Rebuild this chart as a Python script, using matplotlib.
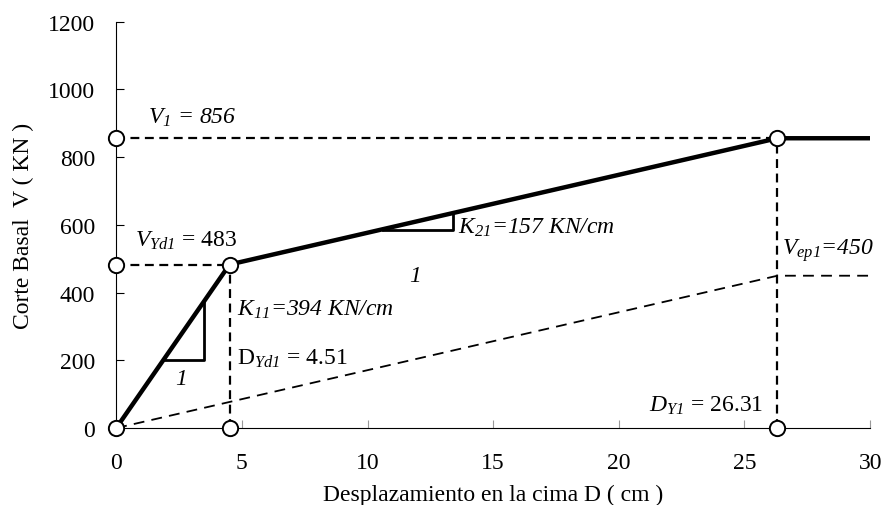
import matplotlib
matplotlib.use('Agg')
import matplotlib.pyplot as plt

plt.rcParams['font.family'] = 'Liberation Serif'
plt.rcParams['mathtext.fontset'] = 'custom'
plt.rcParams['mathtext.rm'] = 'Liberation Serif'
plt.rcParams['mathtext.it'] = 'Liberation Serif:italic'
# italic digits in subscripts (mathtext forces digits upright in \mathit)
plt.rcParams['mathtext.sf'] = 'Liberation Serif:italic'

# bilinear capacity curve
curve_x = [0, 4.51, 26.31, 30]
curve_y = [0, 483, 856, 856]
# elastoplastic demand line
ep_x = [0, 26.31, 30]
ep_y = [0, 450, 450]
# key points
dyd1, vyd1 = 4.51, 483
dy1, v1 = 26.31, 856
pts_x = [0, dyd1, dy1, 0, 0, dyd1, dy1]
pts_y = [0, vyd1, v1, v1, vyd1, 0, 0]
# slope triangles
tri1_x = [1.87, 3.5, 3.5]
tri1_y = [200, 200, 375]
tri2_x = [10.6, 13.4, 13.4]
tri2_y = [585, 585, 635]

fig = plt.figure(figsize=(8.87, 5.06), dpi=100)
ax = fig.add_axes([0.131, 0.152, 0.85, 0.803])

ax.plot([0, dy1], [v1, v1], 'k--', lw=1.6, dashes=(4, 2.5))
ax.plot([0, dyd1], [vyd1, vyd1], 'k--', lw=1.6, dashes=(4, 2.5))
ax.plot([dyd1, dyd1], [0, vyd1], 'k--', lw=1.6, dashes=(4, 2.5))
ax.plot([dy1, dy1], [0, v1], 'k--', lw=1.6, dashes=(4, 2.5))
ax.plot(ep_x, ep_y, 'k--', lw=1.3, dashes=(6, 4))
ax.plot(curve_x, curve_y, 'k-', lw=3.2, solid_capstyle='butt')
ax.plot(tri1_x, tri1_y, 'k-', lw=2)
ax.plot(tri2_x, tri2_y, 'k-', lw=2)
ax.plot(pts_x, pts_y, 'o', ms=11, mfc='white', mec='k', mew=1.4, ls='none',
        clip_on=False, zorder=5)

fs = 17
ax.text(1.27, 918, r'$V_{\mathsf{1}}$ = 856', fontsize=fs, style='italic', va='center')
ax.text(0.75, 556, r'$V_{\mathsf{Yd1}}$ = 483', fontsize=fs, va='center')
ax.text(4.8, 352, r'$K_{\mathsf{11}}$=394 KN/cm', fontsize=fs, style='italic', va='center')
ax.text(4.8, 207, r'D$_{\mathsf{Yd1}}$ = 4.51', fontsize=fs, va='center')
ax.text(2.6, 145, '1', fontsize=fs, style='italic', ha='center', va='center')
ax.text(11.9, 452, '1', fontsize=fs, style='italic', ha='center', va='center')
ax.text(13.6, 594, r'$K_{\mathsf{21}}$=157 KN/cm', fontsize=fs, style='italic', va='center')
ax.text(26.5, 527, r'$V_{\mathsf{ep1}}$=450', fontsize=fs, style='italic', va='center')
ax.text(25.75, 70, r'$D_{\mathsf{Y1}}$ = 26.31', fontsize=fs, ha='right', va='center')

ax.set_xlim(0, 30)
ax.set_ylim(0, 1200)
ax.set_xticks(range(0, 31, 5))
ax.set_yticks(range(0, 1201, 200))
ax.spines['top'].set_visible(False)
ax.spines['right'].set_visible(False)
ax.tick_params(direction='in', length=6, labelsize=fs)
ax.tick_params(axis='y', pad=15)
ax.tick_params(axis='x', color='#999999', pad=17)
ax.set_xlabel('Desplazamiento en la cima D ( cm )', fontsize=fs, labelpad=8)
ax.set_ylabel('Corte Basal  V ( KN )', fontsize=fs, labelpad=10)

fig.savefig('out.png', dpi=100)
